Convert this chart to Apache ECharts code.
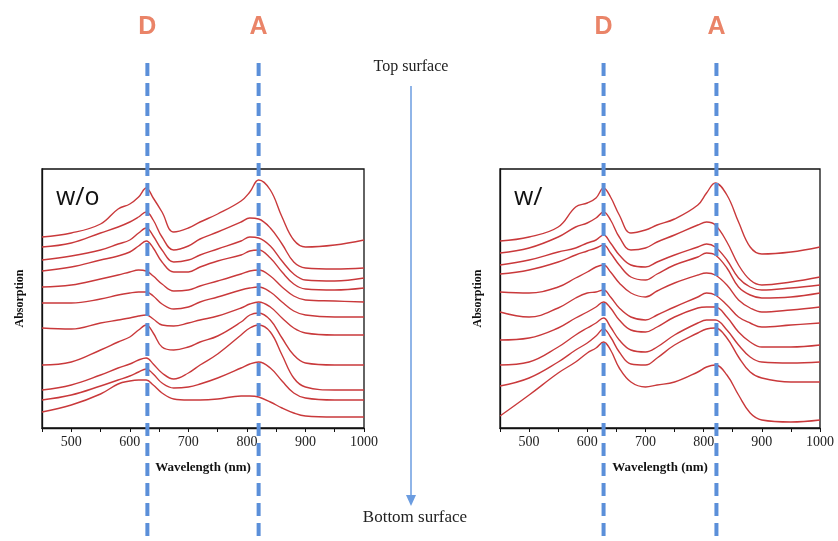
<!DOCTYPE html>
<html>
<head>
<meta charset="utf-8">
<script src="https://cdn.jsdelivr.net/npm/echarts@6/dist/echarts.min.js"></script>
<style>
  html, body { margin: 0; padding: 0; background: #fff; }
  #chart { width: 838px; height: 541px; }
</style>
</head>
<body>
<div id="chart"></div>
<script>
// wavelength samples (nm), shared by every spectrum
const wavelengths = [450, 500, 550, 580, 600, 615, 628, 640, 655, 675, 700, 720, 750, 790, 805, 820, 840, 860, 880, 900, 950, 1000];

// w/o : stacked spectra, top surface -> bottom surface (offset absorption, a.u.)
const woSpectra = [
  [191, 195, 204, 219, 224, 231, 240, 230, 216, 196, 200, 206, 214, 227, 236, 248, 238, 211, 188, 181, 183, 188],
  [181, 185, 195, 201, 206, 211, 216, 208, 191, 178, 182, 189, 196, 206, 210, 209, 200, 184, 166, 160, 159, 160],
  [168, 172, 178, 184, 188, 195, 200, 192, 178, 166, 168, 173, 179, 187, 191, 190, 182, 167, 154, 148, 147, 150],
  [157, 161, 168, 172, 176, 182, 187, 180, 166, 156, 156, 161, 167, 173, 177, 178, 170, 156, 144, 139, 138, 140],
  [141, 143, 149, 153, 156, 158, 157, 152, 144, 137, 138, 142, 147, 154, 157, 158, 152, 141, 132, 128, 127, 126],
  [125, 125, 129, 133, 135, 136, 136, 132, 124, 119, 121, 126, 131, 138, 140, 141, 136, 126, 117, 113, 111, 111],
  [100, 99, 105, 108, 110, 112, 113, 109, 103, 102, 105, 108, 112, 120, 124, 126, 121, 110, 100, 95, 93, 93],
  [63, 66, 78, 86, 91, 98, 103, 95, 81, 78, 81, 86, 92, 106, 113, 115, 108, 90, 73, 65, 63, 63],
  [38, 43, 53, 60, 64, 68, 70, 64, 55, 49, 55, 63, 74, 93, 100, 103, 96, 73, 50, 41, 38, 38],
  [28, 33, 42, 48, 52, 56, 59, 54, 45, 40, 41, 44, 50, 60, 64, 66, 60, 47, 35, 30, 28, 28],
  [16, 23, 34, 44, 47, 48, 48, 43, 35, 29, 28, 28, 29, 32, 32, 31, 26, 20, 15, 12, 11, 11]
];

// w/ : stacked spectra, top surface -> bottom surface
const wSpectra = [
  [187, 191, 201, 221, 225, 230, 240, 231, 213, 195, 198, 203, 209, 223, 235, 245, 233, 206, 181, 174, 176, 181],
  [175, 180, 191, 201, 205, 210, 216, 208, 191, 178, 180, 186, 193, 203, 206, 203, 186, 163, 148, 143, 146, 151],
  [163, 168, 176, 180, 185, 188, 193, 185, 173, 163, 161, 166, 173, 181, 184, 181, 168, 150, 141, 138, 140, 143],
  [154, 158, 166, 173, 177, 180, 183, 175, 163, 151, 148, 154, 163, 171, 175, 173, 160, 141, 133, 130, 131, 135],
  [136, 135, 141, 150, 156, 161, 163, 156, 145, 135, 131, 137, 145, 153, 155, 153, 143, 128, 120, 116, 118, 121],
  [116, 111, 120, 130, 135, 136, 138, 131, 120, 111, 108, 113, 121, 131, 135, 133, 123, 111, 105, 101, 103, 105],
  [88, 90, 100, 110, 116, 121, 126, 120, 108, 98, 96, 101, 111, 120, 121, 121, 111, 96, 86, 81, 81, 83],
  [63, 66, 81, 93, 100, 105, 110, 101, 88, 78, 76, 81, 93, 105, 108, 108, 98, 83, 71, 66, 65, 66],
  [42, 50, 66, 78, 85, 92, 99, 91, 76, 64, 63, 70, 83, 95, 99, 100, 90, 71, 56, 50, 46, 46],
  [12, 33, 55, 66, 75, 80, 86, 78, 60, 46, 41, 43, 46, 56, 61, 63, 53, 33, 15, 8, 6, 8]
];

// donor / acceptor peak positions (nm) for each panel
const peaksWo = [630, 820];
const peaksW = [628, 822];
const peakNames = ["D", "A"];
const panelNames = ["w/o", "w/"];

const serif = "'Liberation Serif', 'Times New Roman', serif";
const lineColor = "#c9393b";
const dashColor = "#5b8fd9";

const chart = echarts.init(document.getElementById("chart"));

function xAxisFor(i) {
  return {
    type: "value", gridIndex: i, min: 450, max: 1000, interval: 50,
    name: "Wavelength (nm)", nameLocation: "middle", nameGap: 33,
    nameTextStyle: { fontFamily: serif, fontWeight: "bold", fontSize: 13, color: "#111" },
    axisLine: { show: true, lineStyle: { color: "#111", width: 1.3 } },
    axisTick: { show: true, inside: false, length: 4, lineStyle: { color: "#111" } },
    axisLabel: {
      margin: 7, fontFamily: serif, fontSize: 14, color: "#222",
      formatter: (v) => (v % 100 === 0 ? String(v) : "")
    },
    splitLine: { show: false }
  };
}

function yAxisFor(i) {
  return {
    type: "value", gridIndex: i, min: 0, max: 259,
    name: "Absorption", nameLocation: "middle", nameGap: 16, nameRotate: 90,
    nameTextStyle: { fontFamily: serif, fontWeight: "bold", fontSize: 12, color: "#111" },
    axisLine: { show: true, lineStyle: { color: "#111", width: 1.3 } },
    axisTick: { show: false }, axisLabel: { show: false }, splitLine: { show: false }
  };
}

function seriesFor(spectra, i) {
  return spectra.map((vals) => ({
    type: "line", xAxisIndex: i, yAxisIndex: i,
    data: wavelengths.map((w, k) => [w, vals[k]]),
    smooth: 0.4, showSymbol: false, silent: true,
    lineStyle: { color: lineColor, width: 1.4 }
  }));
}

chart.setOption({
  animation: false,
  grid: [
    { left: 42, top: 169, width: 322, height: 259, show: true, borderColor: "#111", borderWidth: 1.3 },
    { left: 500, top: 169, width: 320, height: 259, show: true, borderColor: "#111", borderWidth: 1.3 }
  ],
  xAxis: [xAxisFor(0), xAxisFor(1)],
  yAxis: [yAxisFor(0), yAxisFor(1)],
  series: seriesFor(woSpectra, 0).concat(seriesFor(wSpectra, 1))
});

// annotations: dashed peak lines through both panels, labels, surface arrow
const graphics = [];
[peaksWo, peaksW].forEach((peaks, i) => {
  peaks.forEach((w, j) => {
    const x = chart.convertToPixel({ xAxisIndex: i, yAxisIndex: i }, [w, 0])[0];
    graphics.push({
      type: "line", z: 100,
      shape: { x1: x, y1: 63, x2: x, y2: 541 },
      style: { stroke: dashColor, lineWidth: 4, lineDash: [13, 7] }
    });
    graphics.push({
      type: "text", z: 100, x: x, y: 27,
      style: {
        text: peakNames[j], fill: "#ea8468", font: "bold 25px 'Liberation Sans', Arial, sans-serif",
        align: "center", verticalAlign: "middle"
      }
    });
  });
  const corner = chart.convertToPixel({ xAxisIndex: i, yAxisIndex: i }, [450, 259]);
  graphics.push({
    type: "text", z: 100, x: corner[0] + 14, y: corner[1] + 29,
    style: {
      text: panelNames[i], fill: "#111", font: "25px 'Open Sans', 'Liberation Sans', sans-serif",
      verticalAlign: "middle"
    }
  });
});

const midX = 411;
graphics.push(
  {
    type: "text", x: midX, y: 67,
    style: { text: "Top surface", fill: "#222", font: "16px " + serif, align: "center", verticalAlign: "middle" }
  },
  {
    type: "text", x: midX + 4, y: 518,
    style: { text: "Bottom surface", fill: "#222", font: "17px " + serif, align: "center", verticalAlign: "middle" }
  },
  {
    type: "line", shape: { x1: midX, y1: 86, x2: midX, y2: 498 },
    style: { stroke: "#6b9ce0", lineWidth: 1.5 }
  },
  {
    type: "polygon", shape: { points: [[midX - 5, 495], [midX + 5, 495], [midX, 506]] },
    style: { fill: "#6b9ce0" }
  }
);

chart.setOption({ graphic: graphics });
</script>
</body>
</html>
